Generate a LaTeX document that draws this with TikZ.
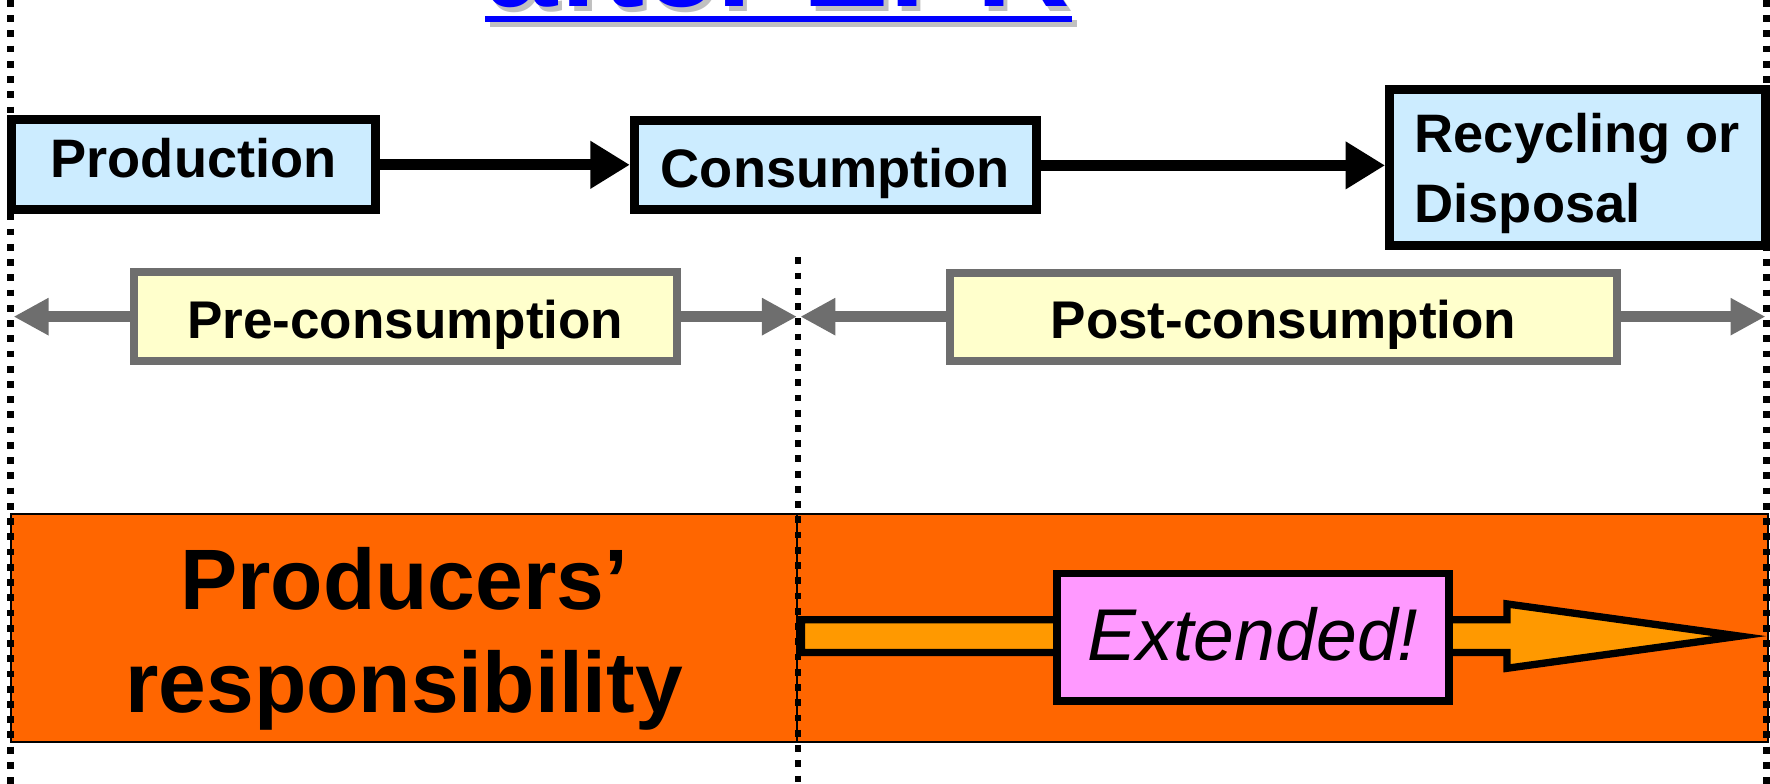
\documentclass[tikz,border=0pt]{standalone}
\usepackage{fontspec}
\setmainfont{Liberation Sans}
\usetikzlibrary{arrows.meta}
\definecolor{boxblue}{HTML}{CCECFF}
\definecolor{boxyellow}{HTML}{FFFFCC}
\definecolor{bandorange}{HTML}{FF6600}
\definecolor{arroworange}{HTML}{FF9900}
\definecolor{boxpink}{HTML}{FF99FF}
\definecolor{titleblue}{HTML}{0000FF}
\definecolor{shadowgray}{HTML}{C0C0C0}
\definecolor{hatchgray}{HTML}{6E6E6E}
\begin{document}
\begin{tikzpicture}[x=1pt,y=-1pt,
  bluebox/.style={draw=black, fill=boxblue, line width=8pt, inner sep=0pt},
  yellowbox/.style={draw=hatchgray, fill=boxyellow, line width=7pt, inner sep=0pt},
  bandbox/.style={draw=black, fill=bandorange, line width=2pt, inner sep=0pt},
  pinkbox/.style={draw=black, fill=boxpink, line width=7pt, inner sep=0pt},
  lbl/.style={inner sep=0pt, font=\fontsize{48}{60}\selectfont\bfseries},
  midlbl/.style={inner sep=0pt, font=\fontsize{47}{58}\selectfont\bfseries},
  biglbl/.style={inner sep=0pt, font=\fontsize{76}{90}\selectfont\bfseries},
  extlbl/.style={inner sep=0pt, font=\fontsize{65}{78}\selectfont\itshape},
  titlelbl/.style={inner sep=0pt, font=\fontsize{115}{130}\selectfont\bfseries},
  blackarrow/.style={draw=black, line width=10pt, -{Triangle[length=35pt,width=40pt]}},
  grayarrow/.style={draw=hatchgray, line width=10pt, -{Triangle[length=31pt,width=31pt]}},
  dotline/.style={draw=black, line width=6pt, dash pattern=on 6pt off 7.5pt},
  extarrow/.style={draw=black, fill=arroworange, line width=6.5pt, line join=miter}
]
\useasboundingbox (0,0) rectangle (1568,694.5);
\clip (0,0) rectangle (1568,694.5);

% title (mostly cut off at the top edge, as in the reference)
\node[titlelbl, text=shadowgray, anchor=base west] (titleshadow) at (433.8,10) {after EPR};
\fill[shadowgray] (433.8,18) rectangle (953.8,23.5);
\node[titlelbl, text=titleblue, anchor=base west] (title) at (430,6) {after EPR};
\fill[titleblue] (430,14) rectangle (950,19.5);

% orange band
\node[bandbox, minimum width=696pt, minimum height=202pt] (bandL) at (358,556) {};
\node[bandbox, minimum width=860pt, minimum height=202pt] (bandR) at (1136,556) {};
\node[biglbl, anchor=base] (prod1) at (358,540) {Producers’};
\node[biglbl, anchor=base] (prod2) at (358,631) {responsibility};

% extended arrow
\draw[extarrow] (710,549) -- (1335,549) -- (1335,535) -- (1541,563.5) -- (1335,592) -- (1335,578) -- (710,578) -- cycle;
\node[pinkbox, minimum width=348pt, minimum height=113pt] (ext) at (1110,564.5) {};
\node[extlbl, anchor=base] (exttxt) at (1110,585) {Extended!};

% top process boxes
\node[bluebox, minimum width=323pt, minimum height=80pt] (prod) at (171.5,146) {};
\node[lbl, anchor=base] (prodtxt) at (171.5,157) {Production};
\node[bluebox, minimum width=356pt, minimum height=79pt] (cons) at (740,146.5) {};
\node[lbl, anchor=base] (constxt) at (740,166) {Consumption};
\node[bluebox, minimum width=333pt, minimum height=138.5pt] (rec) at (1397.5,148.25) {};
\node[lbl, anchor=base west] (rectxt1) at (1253,135) {Recycling or};
\node[lbl, anchor=base west] (rectxt2) at (1253,197) {Disposal};

\draw[blackarrow] (prod.east) -- (prod.east -| cons.west);
\draw[blackarrow] (cons.east) -- (cons.east -| rec.west);

% phase boxes
\node[yellowbox, minimum width=481.5pt, minimum height=79pt] (pre) at (359.25,280.5) {};
\node[midlbl, anchor=base] (pretxt) at (359,300) {Pre-consumption};
\node[yellowbox, minimum width=591pt, minimum height=78pt] (post) at (1137,280.5) {};
\node[midlbl, anchor=base] (posttxt) at (1137,300) {Post-consumption};

\coordinate (preL) at (12,280.5);
\coordinate (preR) at (706,280.5);
\coordinate (postL) at (709,280.5);
\coordinate (postR) at (1564,280.5);
\draw[grayarrow] (pre.west) -- (preL);
\draw[grayarrow] (pre.east) -- (preR);
\draw[grayarrow] (post.west) -- (postL);
\draw[grayarrow] (post.east) -- (postR);

% dotted dividers
\coordinate (dL1) at (9,0);
\coordinate (dL2) at (9,694.5);
\coordinate (dM1) at (707,228);
\coordinate (dM2) at (707,694.5);
\coordinate (dR1) at (1565,0);
\coordinate (dR2) at (1565,694.5);
\draw[dotline] (dL1) -- (dL2);
\draw[dotline] (dM1) -- (dM2);
\draw[dotline] (dR1) -- (dR2);
\end{tikzpicture}
\end{document}
